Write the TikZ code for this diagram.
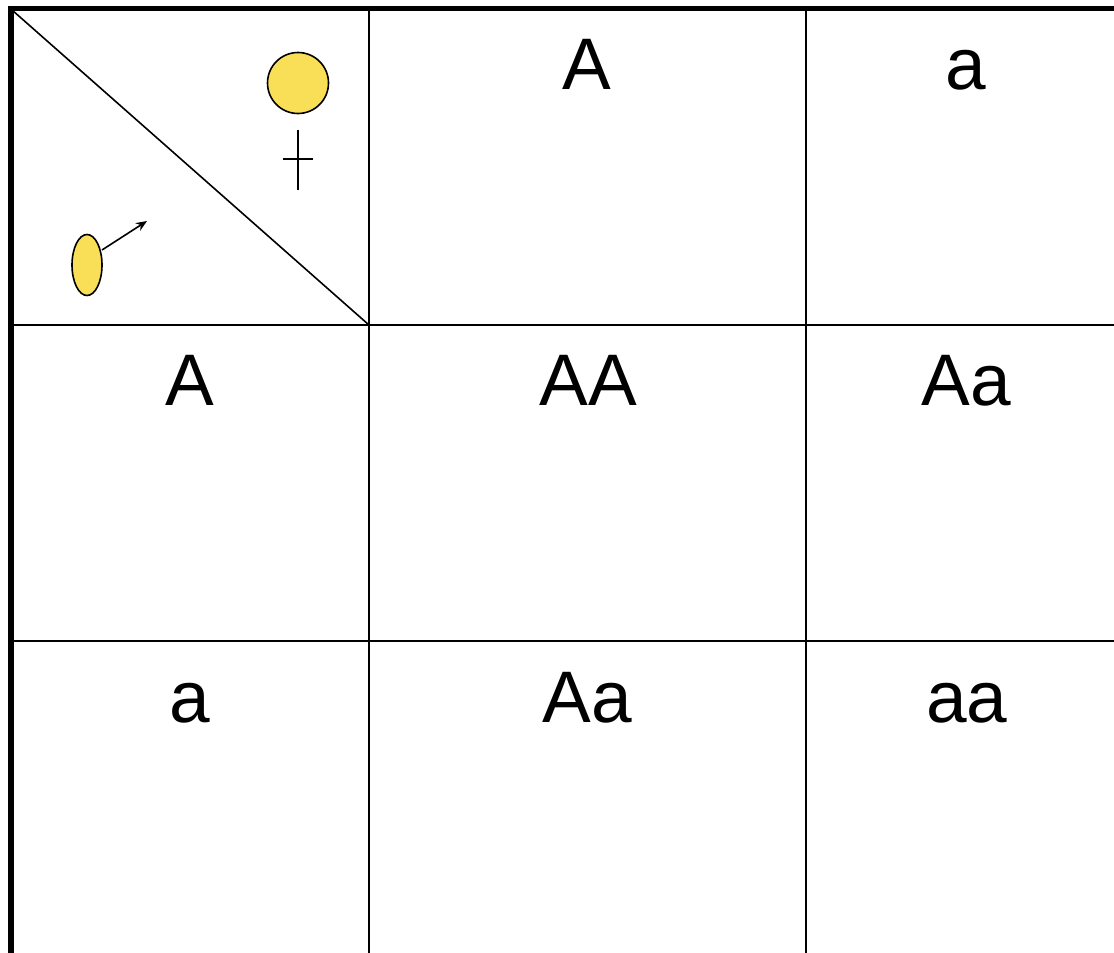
\documentclass[tikz,border=0pt]{standalone}
\usepackage{fontspec}
\setmainfont{Liberation Sans}
\usetikzlibrary{shapes.geometric,arrows.meta}
\definecolor{gyellow}{HTML}{F9DF58}
\begin{document}
\begin{tikzpicture}[x=1pt,y=-1pt,
  thickborder/.style={line width=5.5pt},
  gridline/.style={line width=2.4pt},
  lbl/.style={anchor=base,inner sep=0pt,font=\fontsize{73}{88}\selectfont},
  gamete/.style={draw,line width=1.6pt,fill=gyellow}]
\useasboundingbox (0,0) rectangle (1114,953);
\fill[white] (0,0) rectangle (1114,953);
% grid
\draw[gridline] (369,8) -- (369,953);
\draw[gridline] (806,8) -- (806,953);
\draw[gridline] (11,325) -- (1114,325);
\draw[gridline] (11,641) -- (1114,641);
\draw[line width=1.6pt] (12,10) -- (369,325);
\draw[thickborder] (8.5,8.5) -- (1114,8.5);
\draw[thickborder] (11,6) -- (11,953);
% header symbols
\node[gamete,circle,minimum size=61pt,inner sep=0pt] (egg) at (298,83) {};
\coordinate (vt) at (298,130);
\coordinate (vb) at (298,190);
\coordinate (hl) at (283,159);
\coordinate (hr) at (313,159);
\draw[line width=1.5pt] (vt) -- (vb);
\draw[line width=1.5pt] (hl) -- (hr);
\node[gamete,ellipse,minimum width=30pt,minimum height=61pt,inner sep=0pt] (sperm) at (87,265) {};
\coordinate (arrowtip) at (147,221);
\draw[line width=1.6pt,-{Stealth[length=11pt,width=9pt]}] (102,250) -- (arrowtip);
% labels
\node[lbl] (h1) at (587,89) {A};
\node[lbl] (h2) at (966,89) {a};
\node[lbl] (r1) at (190,405) {A};
\node[lbl] (c11) at (588,405) {AA};
\node[lbl] (c12) at (966,405) {Aa};
\node[lbl] (r2) at (190,722) {a};
\node[lbl] (c21) at (587,722) {Aa};
\node[lbl] (c22) at (967,722) {aa};
\end{tikzpicture}
\end{document}
